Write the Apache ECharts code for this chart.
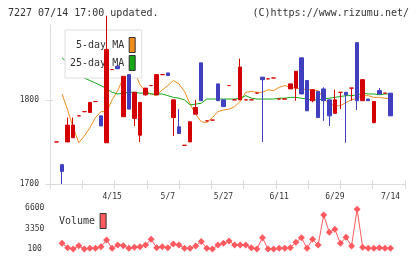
<!DOCTYPE html>
<html>
<head>
<meta charset="utf-8">
<script src="https://cdn.jsdelivr.net/npm/echarts@6/dist/echarts.min.js"></script>
<style>
html, body { margin: 0; padding: 0; background: #fff; }
#chart { width: 420px; height: 259px; }
</style>
</head>
<body>
<div id="chart"></div>
<script>
// dates (category axis), label every 10th point
var dates = ['4/1','4/2','4/5','4/6','4/7','4/8','4/9','4/12','4/13','4/14',
    '4/15','4/16','4/19','4/20','4/22','4/23','4/26','4/27','4/30','5/6',
    '5/7','5/10','5/12','5/13','5/17','5/19','5/20','5/24','5/25','5/26',
    '5/27','5/28','5/31','6/1','6/2','6/3','6/4','6/7','6/8','6/10',
    '6/11','6/14','6/15','6/16','6/18','6/21','6/22','6/23','6/24','6/28',
    '6/29','6/30','7/1','7/2','7/5','7/6','7/7','7/8','7/9','7/13',
    '7/14'];

// [open, close, low, high]
var candles = [
    [1750,1750,1750,1750],[1723,1715,1700,1723],[1750,1770,1750,1779],[1755,1770,1755,1779],[1781,1781,1781,1781],
    [1786,1786,1786,1786],[1785,1797,1785,1797],[1798,1798,1798,1798],[1781,1769,1769,1781],[1749,1860,1749,1900],
    [1836,1836,1836,1836],[1840,1837,1837,1840],[1780,1828,1780,1828],[1830,1789,1789,1830],[1778,1809,1769,1809],
    [1758,1797,1750,1797],[1806,1814,1805,1814],[1817,1817,1817,1817],[1806,1830,1806,1830],[1830,1830,1830,1830],
    [1832,1829,1829,1832],[1779,1800,1757,1800],[1768,1760,1760,1789],[1746,1746,1746,1746],[1750,1774,1750,1774],
    [1783,1791,1783,1800],[1844,1799,1799,1844],[1775,1775,1775,1775],[1776,1776,1776,1776],[1819,1799,1799,1819],
    [1800,1792,1792,1800],[1817,1817,1817,1817],[1800,1800,1800,1800],[1800,1839,1800,1849],[1800,1800,1800,1800],
    [1800,1800,1800,1800],[1808,1808,1808,1808],[1827,1824,1750,1827],[1825,1825,1825,1825],[1826,1826,1826,1826],
    [1801,1801,1801,1801],[1801,1801,1801,1801],[1813,1819,1813,1819],[1814,1834,1799,1834],[1850,1807,1807,1850],
    [1823,1787,1787,1823],[1799,1812,1797,1812],[1810,1779,1779,1810],[1813,1799,1775,1815],[1800,1781,1769,1800],
    [1784,1800,1784,1812],[1809,1809,1789,1809],[1809,1806,1749,1809],[1814,1814,1799,1814],[1868,1799,1788,1868],
    [1799,1824,1799,1824],[1801,1799,1799,1801],[1773,1798,1772,1798],[1811,1807,1807,1814],[1808,1808,1808,1808],
    [1808,1781,1781,1808]
];

var ma5 = [null,1807,1788,1767,1749,1757,1767,1779,1786,1786,
    1800,1811,1826,1838,1834,1818,1810,1807,1805,1812,
    1817,1823,1819,1810,1795,1783,1774,1773,1779,1786,
    1788,1789,1792,1798,1809,1810,1809,1809,1812,1811,
    1815,1817,1815,1814,1813,1812,1812,1811,1802,1795,
    1793,1793,1797,1800,1802,1805,1805,1803,1803,1802,
    1801];

var ma25 = [null,1850,1844,1838,1832,1826,1823,1820,1817,1813,
    1809,1807,1808,1809,1809,1808,1808,1807,1807,1807,
    1805,1803,1802,1800,1794,1795,1796,1801,1801,1801,
    1801,1801,1801,1802,1805,1802,1801,1801,1801,1801,
    1802,1802,1803,1803,1802,1801,1800,1800,1801,1802,
    1803,1804,1805,1805,1806,1808,1807,1807,1806,1807,
    1807];

var volume = [null,1000,300,100,600,100,200,200,470,1540,
    200,740,630,200,370,470,740,1650,300,470,
    300,900,740,200,200,580,1300,200,100,740,
    1000,1380,740,740,740,300,100,1900,100,100,
    200,200,300,1170,1900,200,1650,740,5530,2770,
    3250,1000,1970,580,6440,370,200,200,300,200,
    200];

var priceTicks = [1700, 1800];
var volTicks = [100, 3350, 6600];

var FONT = "'DejaVu Sans Mono', monospace";
var RED = '#d40000', BLUE = '#3f3fbf', ORANGE = '#f08c1a', GREEN = '#14a814', VOL = '#ff5a5f';
var AXIS = '#dcdcdc';

function plain(v) { return String(v); }

var chart = echarts.init(document.getElementById('chart'));

// frame axes (ticks cross the axis lines)
function frameX(inside) {
    return {
        type: 'value', gridIndex: 0, min: 0, max: 11, interval: 1, position: 'bottom',
        axisLine: { show: !inside, lineStyle: { color: AXIS } },
        axisTick: { show: true, inside: inside, length: inside ? 4 : 5, lineStyle: { color: AXIS } },
        axisLabel: { show: false }, splitLine: { show: false }
    };
}
function frameY(inside) {
    return {
        type: 'value', gridIndex: 0, min: 1700, max: 1889, position: 'left',
        axisLine: { show: !inside, lineStyle: { color: AXIS } },
        axisTick: { show: true, inside: inside, length: inside ? 3 : 5, customValues: priceTicks, lineStyle: { color: AXIS } },
        axisLabel: { show: !inside, customValues: priceTicks, formatter: plain, margin: 11, color: '#333', fontSize: 8, fontFamily: FONT },
        splitLine: { show: false }
    };
}

var option = {
    animation: false,
    backgroundColor: '#fff',
    title: {
        text: '7227 07/14 17:00 updated.', left: 3, top: 3,
        textStyle: { fontSize: 10, fontWeight: 'normal', color: '#333', fontFamily: FONT }
    },
    // copyright, right aligned at the frame's right edge
    graphic: [{
        type: 'text', x: 409, y: 13,
        style: {
            text: '(C)https://www.rizumu.net/', align: 'right', verticalAlign: 'middle',
            fill: '#333', fontSize: 10, fontFamily: FONT
        }
    }],
    legend: [
        {
            data: ['5-day MA', '25-day MA'], orient: 'vertical', align: 'right',
            left: 65, top: 30, padding: [7, 6, 7, 5], itemGap: 2, itemWidth: 6, itemHeight: 15,
            icon: 'rect', backgroundColor: '#fff', borderColor: '#ddd', borderWidth: 1,
            itemStyle: { borderColor: '#333', borderWidth: 1 },
            textStyle: { fontSize: 10, color: '#333', fontFamily: FONT }
        },
        {
            data: ['Volume'], orient: 'vertical', align: 'right',
            left: 59, top: 213, padding: 0, itemWidth: 6, itemHeight: 15,
            icon: 'rect', itemStyle: { borderColor: '#333', borderWidth: 1 },
            textStyle: { fontSize: 10, color: '#333', fontFamily: FONT }
        }
    ],
    grid: [
        { left: 50, top: 25, width: 355, height: 159 },
        { left: 53.7, top: 25, width: 339.6, height: 159 },
        { left: 53.7, top: 208.3, width: 339.6, height: 40.7 }
    ],
    xAxis: [
        frameX(false),
        frameX(true),
        {
            type: 'category', gridIndex: 1, data: dates, boundaryGap: true,
            axisLine: { show: false }, axisTick: { show: false },
            axisLabel: {
                interval: function (i) { return i > 0 && i % 10 === 0; },
                margin: 9, color: '#333', fontSize: 8, fontFamily: FONT
            }
        },
        {
            type: 'category', gridIndex: 2, data: dates, boundaryGap: true,
            axisLine: { show: false }, axisTick: { show: false }, axisLabel: { show: false }
        }
    ],
    yAxis: [
        frameY(false),
        frameY(true),
        {
            type: 'value', gridIndex: 1, min: 1700, max: 1889, show: false
        },
        {
            type: 'value', gridIndex: 2, min: 100, max: 6600, interval: 3250,
            axisLine: { show: false }, axisTick: { show: false }, splitLine: { show: false },
            axisLabel: { customValues: volTicks, formatter: plain, align: 'center', margin: 19, color: '#333', fontSize: 8, fontFamily: FONT }
        }
    ],
    series: [
        {
            name: 'price', type: 'candlestick', xAxisIndex: 2, yAxisIndex: 2, z: 10,
            barWidth: 4,
            itemStyle: {
                color: RED, color0: BLUE, borderColor: RED, borderColor0: BLUE,
                borderColorDoji: RED, borderWidth: 1
            },
            data: candles
        },
        {
            name: '5-day MA', type: 'line', xAxisIndex: 2, yAxisIndex: 2, z: 2,
            showSymbol: false, color: ORANGE, lineStyle: { width: 1, color: ORANGE },
            data: ma5
        },
        {
            name: '25-day MA', type: 'line', xAxisIndex: 2, yAxisIndex: 2, z: 2,
            showSymbol: false, color: GREEN, lineStyle: { width: 1, color: GREEN },
            data: ma25
        },
        {
            name: 'Volume', type: 'line', xAxisIndex: 3, yAxisIndex: 3,
            symbol: 'diamond', symbolSize: 7, showAllSymbol: true, color: VOL,
            lineStyle: { width: 1, color: VOL }, itemStyle: { color: VOL },
            data: volume
        }
    ]
};

chart.setOption(option);
</script>
</body>
</html>
